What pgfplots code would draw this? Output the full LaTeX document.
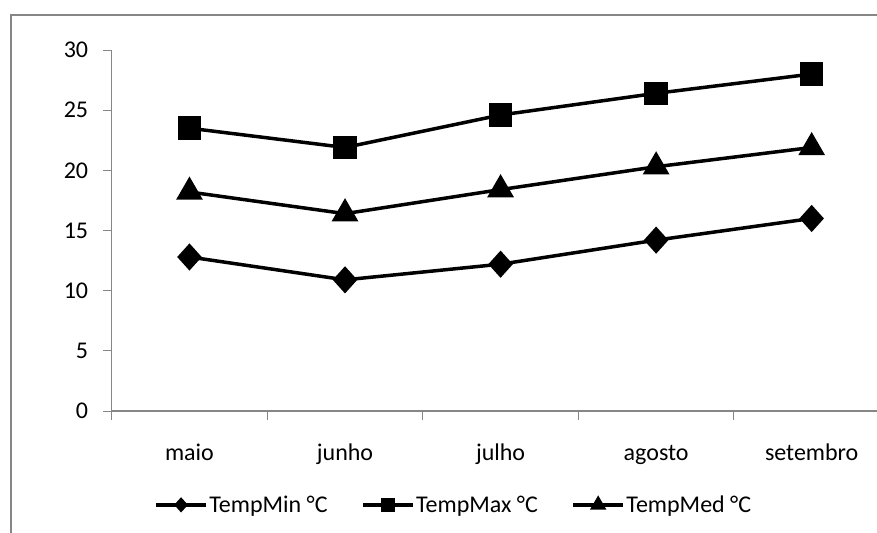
\documentclass[border=0pt]{standalone}
\usepackage{fontspec}
\setmainfont{Carlito}
\usepackage{pgfplots}
\pgfplotsset{compat=1.18}
\definecolor{axisgray}{RGB}{134,134,134}
\begin{document}
\begin{tikzpicture}
\useasboundingbox (0,0) rectangle (877bp,-533bp);
% chart area frame (top and left edges)
\draw[axisgray, line width=2bp] (10.7bp,-533bp) -- (10.7bp,-15bp) -- (877bp,-15bp);
\begin{axis}[
  at={(111.7bp,-411bp)}, anchor=south west,
  scale only axis, width=765.3bp, height=361bp,
  xmin=-0.5, xmax=4.42, ymin=0, ymax=30,
  axis x line=bottom, axis y line=left,
  axis line style={-, axisgray, line width=1.5bp},
  tick align=outside,
  tick style={axisgray, line width=1bp},
  major tick length=8.4bp,
  minor tick length=9bp,
  ytick={0,5,...,30},
  xtick={0,1,2,3,4},
  xticklabels={maio,junho,julho,agosto,setembro},
  minor xtick={-0.5,0.5,1.5,2.5,3.5},
  major x tick style={draw=none},
  /pgf/number format/assume math mode=true,
  tick label style={font=\fontsize{24bp}{28bp}\selectfont, text=black},
  yticklabel style={inner sep=0pt, xshift=-15bp},
  xticklabel style={anchor=base, yshift=-41bp},
  clip=false,
  legend columns=3,
  legend style={draw=none, fill=none, at={(0.4466,-0.260)}, anchor=center,
    font=\fontsize{24bp}{28bp}\selectfont,
    nodes={inner sep=1.5bp},
    /tikz/every even column/.append style={column sep=32bp}},
  legend image code/.code={\draw[mark repeat=2,mark phase=2,#1]
    plot coordinates {(0bp,0bp)(25bp,0bp)(50bp,0bp)};},
]
% series
\addplot[forget plot, black, line width=3.5bp, mark=diamond*, mark size=11bp, mark options={solid, fill=black, xscale=1.2}]
  coordinates {(0,12.8) (1,10.9) (2,12.2) (3,14.2) (4,16.0)};
\addplot[forget plot, black, line width=3.5bp, mark=square*, mark size=10bp, mark options={solid, fill=black}]
  coordinates {(0,23.5) (1,21.9) (2,24.6) (3,26.4) (4,28.0)};
\addplot[forget plot, black, line width=3.5bp, mark=triangle*, mark size=12bp, mark options={solid, fill=black}]
  coordinates {(0,18.2) (1,16.4) (2,18.4) (3,20.3) (4,21.9)};
% legend keys with small markers
\addlegendimage{black, line width=3.5bp, mark=diamond*, mark size=5bp, mark options={solid, fill=black, xscale=1.2}}
\addlegendentry{TempMin °C}
\addlegendimage{black, line width=3.5bp, mark=square*, mark size=5.5bp, mark options={solid, fill=black}}
\addlegendentry{TempMax °C}
\addlegendimage{black, line width=3.5bp, mark=triangle*, mark size=6bp, mark options={solid, fill=black}}
\addlegendentry{TempMed °C}
\end{axis}
\end{tikzpicture}
\end{document}
